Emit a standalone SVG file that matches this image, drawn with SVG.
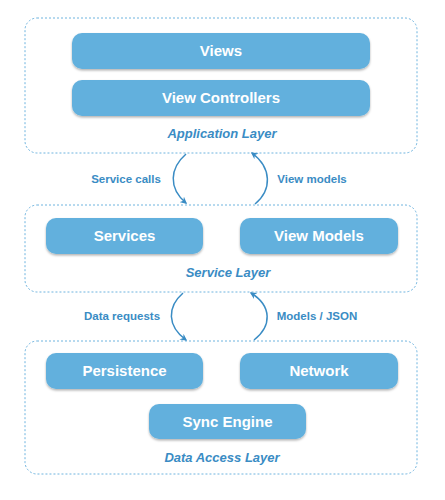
<svg xmlns="http://www.w3.org/2000/svg" width="445" height="500" viewBox="0 0 445 500">
<style>
.layer{fill:#fff;stroke:#6fb4df;stroke-width:1;stroke-dasharray:2 2}
.node{fill:#62b0dd}
.nt{font-family:"Liberation Sans",Arial,sans-serif;font-weight:bold;font-size:15px;fill:#fff;text-anchor:middle}
.lt{font-family:"Liberation Sans",Arial,sans-serif;font-weight:bold;font-style:italic;font-size:13px;fill:#3a8cc4;text-anchor:middle}
.el{font-family:"Liberation Sans",Arial,sans-serif;font-weight:bold;font-size:11.5px;fill:#3a8cc4;text-anchor:middle}
.arr{fill:none;stroke:#3a8cc4;stroke-width:1.5;marker-end:url(#ah)}
</style>
<defs>
<filter id="sh" x="-10%" y="-20%" width="120%" height="150%">
<feDropShadow dx="0" dy="1.5" stdDeviation="1.2" flood-color="#000" flood-opacity="0.3"/>
</filter>
<marker id="ah" viewBox="0 0 10 10" refX="8" refY="5" markerWidth="7" markerHeight="7" orient="auto" markerUnits="userSpaceOnUse">
<path d="M0,0 L10,5 L0,10 L3,5 z" fill="#3a8cc4"/>
</marker>
</defs>
<rect width="445" height="500" fill="#fff"/>

<g id="application-layer">
<rect class="layer" x="25" y="18" width="392" height="135" rx="12"/>
<text class="lt" x="222" y="138">Application Layer</text>
</g>
<g id="views">
<rect class="node" filter="url(#sh)" x="72" y="33" width="298" height="36" rx="10"/>
<text class="nt" x="221" y="56">Views</text>
</g>
<g id="view-controllers">
<rect class="node" filter="url(#sh)" x="72" y="80" width="298" height="36" rx="10"/>
<text class="nt" x="221" y="103">View Controllers</text>
</g>

<g id="service-layer">
<rect class="layer" x="25" y="205" width="392" height="87" rx="12"/>
<text class="lt" x="228" y="277">Service Layer</text>
</g>
<g id="services">
<rect class="node" filter="url(#sh)" x="46" y="218" width="157" height="36" rx="10"/>
<text class="nt" x="124.5" y="241">Services</text>
</g>
<g id="view-models">
<rect class="node" filter="url(#sh)" x="240" y="218" width="158" height="36" rx="10"/>
<text class="nt" x="319" y="241">View Models</text>
</g>

<g id="data-access-layer">
<rect class="layer" x="25" y="341" width="392" height="133" rx="12"/>
<text class="lt" x="222" y="462">Data Access Layer</text>
</g>
<g id="persistence">
<rect class="node" filter="url(#sh)" x="46" y="353" width="157" height="36" rx="10"/>
<text class="nt" x="124.5" y="376">Persistence</text>
</g>
<g id="network">
<rect class="node" filter="url(#sh)" x="240" y="353" width="158" height="36" rx="10"/>
<text class="nt" x="319" y="376">Network</text>
</g>
<g id="sync-engine">
<rect class="node" filter="url(#sh)" x="149" y="404" width="157" height="35" rx="10"/>
<text class="nt" x="227.5" y="427">Sync Engine</text>
</g>

<g id="connectors">
<path class="arr" d="M186,154 C170,168 168,188 186,203"/>
<text class="el" x="126" y="183">Service calls</text>
<path class="arr" d="M255,204 C272,190 272,168 252,153"/>
<text class="el" x="312" y="183">View models</text>
<path class="arr" d="M183,293 C167,307 167,326 186,340"/>
<text class="el" x="122" y="320">Data requests</text>
<path class="arr" d="M254,340 C272,326 272,306 251,293"/>
<text class="el" x="317" y="320">Models / JSON</text>
</g>
</svg>
